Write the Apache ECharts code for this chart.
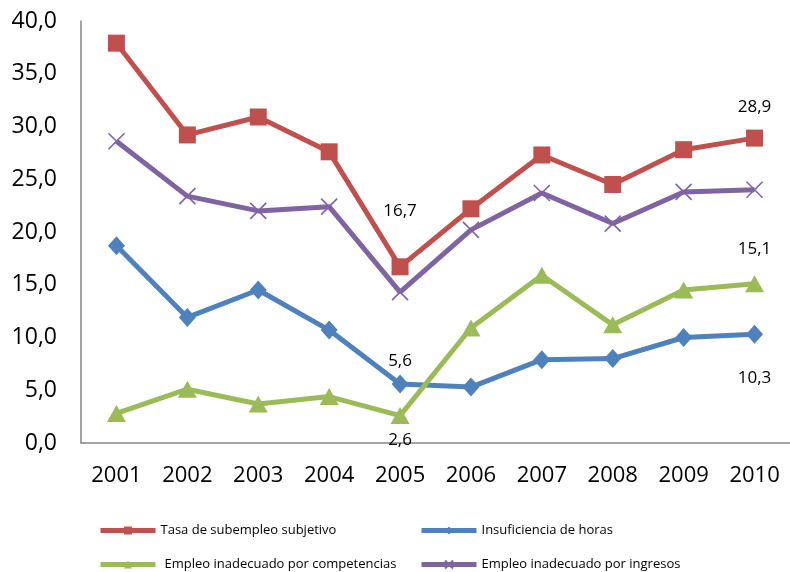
<!DOCTYPE html>
<html>
<head>
<meta charset="utf-8">
<script src="https://cdn.jsdelivr.net/npm/echarts@6/dist/echarts.min.js"></script>
<style>html,body{margin:0;padding:0;background:#fff}#c{width:790px;height:572px}</style>
</head>
<body>
<div id="c"></div>
<script>
var years = ['2001','2002','2003','2004','2005','2006','2007','2008','2009','2010'];
var seriesNames = ['Tasa de subempleo subjetivo','Insuficiencia de horas','Empleo inadecuado por competencias','Empleo inadecuado por ingresos'];
var subjetivo = [37.9, 29.2, 30.9, 27.6, 16.7, 22.2, 27.3, 24.5, 27.8, 28.9];
var horas = [18.7, 11.9, 14.5, 10.7, 5.6, 5.3, 7.9, 8.0, 10.0, 10.3];
var competencias = [2.8, 5.1, 3.7, 4.4, 2.6, 10.9, 15.9, 11.2, 14.5, 15.1];
var ingresos = [28.6, 23.4, 22.0, 22.4, 14.3, 20.2, 23.7, 20.8, 23.8, 24.0];

var FONT = '"Open Sans", "Liberation Sans", sans-serif';
function fmt(v){ return v.toFixed(1).replace('.', ','); }

// which points carry a data label (index -> placement)
var labelCfg = [
  {4:{pos:'top',d:39}, 9:{pos:'top',d:14}},
  {4:{pos:'top',d:5}, 9:{pos:'bottom',d:26}},
  {4:{pos:'bottom',d:8}, 9:{pos:'top',d:18}},
  {}
];
function build(vals, cfg){
  return vals.map(function(v,i){
    var c = cfg[i];
    if(!c) return v;
    return {value:v, label:{show:true, position:c.pos, distance:c.d, formatter:function(p){return fmt(p.value);}, fontSize:17, color:'#000', fontFamily:FONT}};
  });
}
var colors = ['#C0504D','#4F81BD','#9BBB59','#8064A2'];
var symbols = ['rect','diamond','triangle','path://M0,0L20,20M20,0L0,20'];
var sizes = [17,[17,19],[19,17],16];
var allData = [subjetivo, horas, competencias, ingresos];

var series = allData.map(function(d,k){
  var s = {
    name: seriesNames[k], type:'line', data: build(d, labelCfg[k]),
    symbol: symbols[k], symbolSize: sizes[k], showAllSymbol:true,
    lineStyle:{width:5, color:colors[k]},
    itemStyle:{color:colors[k]},
    emphasis:{disabled:true}, animation:false
  };
  if(k===3){ s.itemStyle = {color:colors[k], borderColor:colors[k], borderWidth:1.6}; }
  return s;
});

var legendPos = [[93,519],[414,519],[93,553],[414,553]];
var legends = seriesNames.map(function(n,k){
  return {data:[n], left:legendPos[k][0], top:legendPos[k][1], itemWidth:55, itemHeight:10,
    itemGap:0, textStyle:{fontSize:13, fontFamily:FONT, color:'#000', padding:[0,0,0,k===2?4:0]},
    selectedMode:false, lineStyle:{width:5}};
});

var chart = echarts.init(document.getElementById('c'));
chart.setOption({
  animation:false,
  color: colors,
  grid:{left:81, right:0, top:21, bottom:129},
  legend: legends,
  xAxis:{type:'category', data:years, boundaryGap:true,
    axisLine:{lineStyle:{color:'#868686', width:1.5}}, axisTick:{show:false},
    axisLabel:{fontSize:22, color:'#000', fontFamily:FONT, margin:22}},
  yAxis:{type:'value', min:0, max:40, interval:5,
    axisLine:{show:true, lineStyle:{color:'#868686', width:1.5}}, axisTick:{show:false},
    splitLine:{show:false},
    axisLabel:{fontSize:23, color:'#000', fontFamily:FONT, margin:24, formatter:function(v){return fmt(v);}}},
  series: series
});
</script>
</body>
</html>
